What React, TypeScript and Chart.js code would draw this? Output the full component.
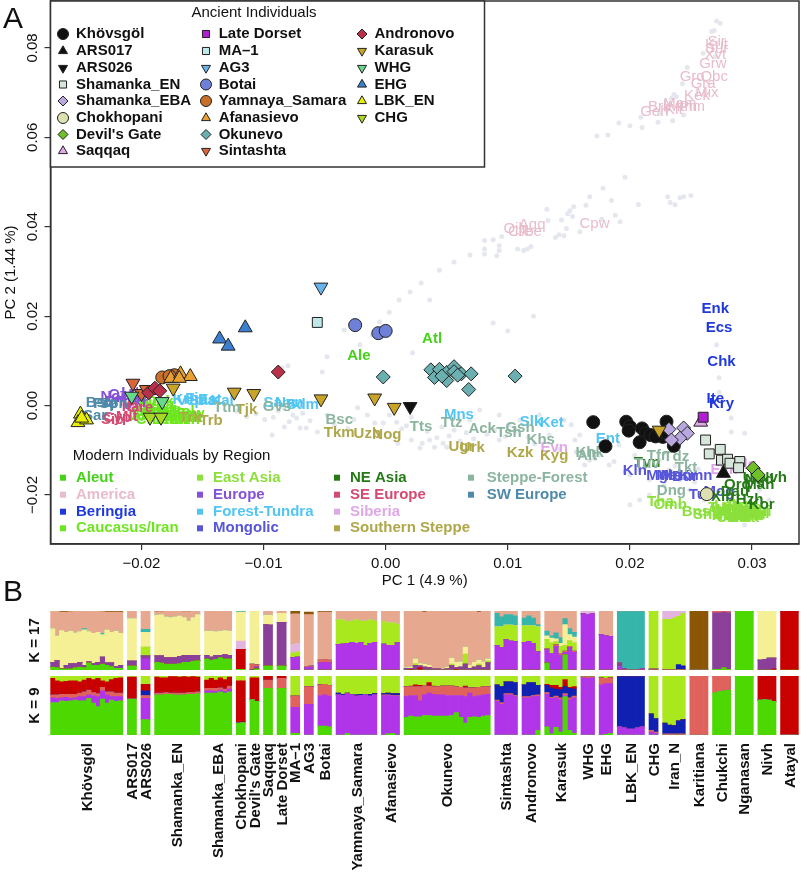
import React, { useEffect, useRef } from "react";
import { Chart, registerables } from "chart.js";
import { drawPoint } from "chart.js/helpers";

Chart.register(...registerables);

const FONT = '"Liberation Sans", Arial, sans-serif';
const INK = "#222222";

// ---------- Panel A: ancient individuals (PC1, PC2) ----------
type P = [number, number];
const khovsgol: P[] = [[0.017, -0.0037], [0.0197, -0.0036], [0.02, -0.0047], [0.0199, -0.0056], [0.021, -0.0051], [0.0213, -0.0062], [0.0217, -0.0066], [0.0208, -0.0082], [0.018, -0.0091], [0.023, -0.0036], [0.0227, -0.007], [0.0236, -0.009], [0.0228, -0.0059], [0.0221, -0.0069]];
const ars017: P[] = [[0.02766, -0.01515]];
const ars026: P[] = [[0.002, -0.0002]];
const shamankaEN: P[] = [[0.0262, -0.0077], [0.0274, -0.0098], [0.0265, -0.0108], [0.0275, -0.0122], [0.028, -0.012], [0.0282, -0.0129], [0.029, -0.0125], [0.0289, -0.0139]];
const shamankaEBA: P[] = [[0.0232, -0.0053], [0.0244, -0.005], [0.0247, -0.0062], [0.0241, -0.0073], [0.0234, -0.0077]];
const chokhopani: P[] = [[0.0263, -0.0198]];
const devilsGate: P[] = [[0.0301, -0.014], [0.0305, -0.0155]];
const saqqaq: P[] = [[0.0258, -0.0037]];
const lateDorset: P[] = [[0.026, -0.0026]];
const ma1: P[] = [[-0.0056, 0.0186]];
const ag3: P[] = [[-0.0053, 0.0265]];
const botai: P[] = [[-0.0025, 0.018], [-0.0006, 0.0162], [0.0, 0.0167]];
const yamnaya: P[] = [[-0.0183, 0.0063], [-0.0173, 0.0068], [-0.0177, 0.0066]];
const afanasievo: P[] = [[-0.0176, 0.0061], [-0.0168, 0.0071], [-0.016, 0.0065], [-0.0169, 0.0061]];
const okunevo: P[] = [[0.0037, 0.008], [0.004, 0.0063], [0.0044, 0.0081], [0.005, 0.0074], [0.005, 0.0056], [0.0046, 0.0066], [0.0056, 0.0087], [0.0056, 0.0076], [0.0062, 0.0071], [0.007, 0.0071], [0.0068, 0.0036], [0.0106, 0.0066], [-0.0002, 0.0064], [0.0059, 0.0068]];
const sintashta: P[] = [[-0.0207, 0.005], [-0.02, 0.0027], [-0.0196, 0.0036]];
const andronovo: P[] = [[-0.0088, 0.0075], [-0.0194, 0.0029], [-0.0189, 0.0039], [-0.0185, 0.0033]];
const karasuk: P[] = [[-0.0174, 0.0039], [-0.0124, 0.003], [-0.0108, 0.0027], [-0.0053, 0.0015], [-0.0009, 0.0017], [0.0007, -0.0004], [0.0224, -0.0055]];
const whg: P[] = [[-0.0208, 0.0021], [-0.0183, 0.0009]];
const ehg: P[] = [[-0.0136, 0.0149], [-0.0129, 0.0133], [-0.0115, 0.0174]];
const lbkEN: P[] = [[-0.025, -0.0019], [-0.0252, -0.0038], [-0.0245, -0.0032], [-0.0249, -0.0028]];
const chg: P[] = [[-0.0193, -0.0026], [-0.0184, -0.0026]];

// ---------- Panel A: modern background individuals ----------
const modernPoints: P[] = [
  [0.0271, 0.086], [0.0274, 0.0855], [0.0269, 0.0839], [0.0267, 0.0837], [0.026, 0.0788], [0.027, 0.0781], [0.0247, 0.0756], [0.0243, 0.072], [0.0236, 0.0696], [0.0234, 0.0687], [0.0238, 0.0691], [0.023, 0.0661], [0.0224, 0.0654], [0.0209, 0.0645], [0.0191, 0.0632], [0.02, 0.0626], [0.021, 0.0622], [0.0223, 0.0634], [0.0235, 0.0637], [0.0244, 0.065], [0.0173, 0.0603], [0.0182, 0.0605],
  [0.0196, 0.0511], [0.0178, 0.0486], [0.0167, 0.0467], [0.0185, 0.0459], [0.0207, 0.045], [0.0231, 0.0467], [0.0233, 0.0454], [0.0237, 0.0449], [0.0241, 0.0465], [0.0244, 0.0467], [0.025, 0.047], [0.0164, 0.0448], [0.0132, 0.0439], [0.0154, 0.0445], [0.0151, 0.0436], [0.0149, 0.0429], [0.0153, 0.0423], [0.0144, 0.0415], [0.0133, 0.0414], [0.0177, 0.0417], [0.0188, 0.0426], [0.0192, 0.0411], [0.0148, 0.0396], [0.0159, 0.0389], [0.0139, 0.0376], [0.0142, 0.0382], [0.0146, 0.038], [0.0095, 0.0378], [0.0081, 0.0369], [0.0088, 0.0371], [0.0093, 0.0358], [0.0093, 0.0347], [0.0091, 0.0335], [0.0081, 0.035], [0.0081, 0.0339], [0.0108, 0.035], [0.0113, 0.0347], [0.0119, 0.0356], [0.0116, 0.035],
  [0.0069, 0.0337], [0.0056, 0.0321], [0.0044, 0.0303], [0.0029, 0.0274], [0.002, 0.0254], [0.0011, 0.0236], [0.0003, 0.0209], [-0.0005, 0.0187], [-0.0011, 0.0158], [-0.0034, 0.0169], [-0.0021, 0.0136], [0.0036, 0.0236], [0.0088, 0.0185], [0.01, 0.0167], [0.0121, 0.02], [0.0271, 0.0136], [0.0273, 0.0062], [0.0273, 0.003], [0.0283, -0.0028], [0.0294, -0.0062], [0.0283, -0.0059],
  [-0.0048, 0.0109], [-0.0052, 0.0075], [-0.008, 0.0089], [-0.0085, 0.0084], [-0.007, -0.005], [-0.0065, -0.005], [-0.0056, -0.0059], [-0.0093, -0.0066], [-0.0083, -0.0048], [-0.0076, -0.0021], [-0.0083, -0.0005], [-0.0068, -0.0017], [-0.0092, -0.0026], [-0.0023, -0.0005], [-0.0015, -0.0021], [-0.0009, -0.0039], [0.001, -0.0084], [0.0009, -0.0037], [0.0021, -0.0077], [0.0028, -0.0095], [0.0022, 0.0118], [0.0021, -0.0026], [-0.0002, -0.0039], [0.0003, -0.0021],
  [0.003, -0.0084], [0.0036, -0.0077], [0.0042, -0.0072], [0.0047, -0.0084], [0.004, -0.0093], [0.005, -0.0093], [0.0056, -0.0055], [0.0069, -0.0032], [0.0077, -0.001], [0.0093, -0.0021], [0.0093, -0.0077], [0.0101, -0.0043], [0.011, -0.0032], [0.0126, -0.0021], [0.0146, -0.0032], [0.0152, -0.0043], [0.0159, -0.0066], [0.0155, -0.0077], [0.0167, -0.0122], [0.0175, -0.0111], [0.0163, -0.0133], [0.0183, -0.0133], [0.0191, -0.0088], [0.0204, -0.0111], [0.0208, -0.0144], [0.0216, -0.0166], [0.02, -0.0155], [0.0224, -0.0122], [0.0232, -0.0144], [0.0241, -0.0166], [0.0228, -0.0178], [0.0253, -0.0171], [0.0261, -0.0211], [0.0208, -0.0211], [0.02, -0.0222], [0.0216, -0.02], [0.0241, -0.0222], [0.0249, -0.0189], [0.029, -0.0144], [0.0298, -0.0166], [0.0286, -0.0234], [0.0294, -0.0267], [0.0314, -0.0211], [0.0306, -0.0189],
  [-0.0122, -0.0012], [-0.0114, -0.0025], [-0.0106, -0.0018], [-0.0099, -0.0031], [-0.0088, -0.0012], [-0.0079, -0.0036], [-0.0073, -0.0028], [-0.0062, -0.0034], [-0.0048, -0.0021], [-0.0042, -0.0044], [-0.0031, -0.0052], [-0.0026, -0.0031], [0.0013, -0.0052], [0.0017, -0.0045], [0.0034, -0.0058], [0.0046, -0.0048], [0.0052, -0.0068], [0.0061, -0.0079], [0.0066, -0.0061], [0.0072, -0.0074], [0.0083, -0.0064], [0.0089, -0.0055], [0.0098, -0.0069], [0.0106, -0.0058], [0.0117, -0.0071], [0.0122, -0.0086], [0.0134, -0.0066], [0.0142, -0.0098], [0.0156, -0.0104], [0.0171, -0.0118], [0.0187, -0.0125], [0.0196, -0.0148], [0.0212, -0.0138], [0.0226, -0.0152], [0.0237, -0.0135], [0.0246, -0.0152], [0.0256, -0.0142],
];

// ---------- Panel A: modern population labels by region ----------
type L = [string, number, number];
const aleutLabels: L[] = [["Ale", -0.0022, 0.0111], ["Atl", 0.0038, 0.0149]];
const americaLabels: L[] = [["Sir", 0.0271, 0.0813], ["Kut", 0.0271, 0.0807], ["Sur", 0.0271, 0.0798], ["Xvt", 0.027, 0.0784], ["Grw", 0.0268, 0.0764], ["Gro", 0.0251, 0.0735], ["Qbc", 0.0269, 0.0735], ["Gra", 0.026, 0.0719], ["Kek", 0.0255, 0.0693], ["Mix", 0.0263, 0.0699], ["Mam", 0.0241, 0.0675], ["Pim", 0.0251, 0.0668], ["Mtm", 0.0243, 0.0668], ["Brk", 0.0224, 0.0668], ["Geh", 0.022, 0.0657], ["Klt", 0.0236, 0.0661], ["Ojb", 0.0106, 0.0395], ["Aqq", 0.012, 0.0404], ["Jbe", 0.0118, 0.0388], ["Cre", 0.011, 0.0388], ["Cpw", 0.0171, 0.0406]];
const beringiaLabels: L[] = [["Enk", 0.027, 0.0216], ["Ecs", 0.0273, 0.0174], ["Chk", 0.0275, 0.0098], ["Ite", 0.027, 0.0015], ["Kry", 0.0275, 0.0004]];
const caucasusLabels: L[] = [["Geo", -0.0196, -0.0014], ["Arm", -0.0189, -0.0025], ["Abk", -0.0197, -0.0023], ["Adg", -0.0189, -0.0012], ["Kum", -0.0181, -0.0019], ["Dar", -0.0173, -0.0025], ["Bal", -0.0166, -0.0014], ["Che", -0.0193, -0.0032], ["Lez", -0.0181, -0.0032], ["Irn", -0.0169, -0.0032], ["Jew", -0.016, -0.0019], ["Ing", -0.0193, 0.0008], ["Osk", -0.0185, 0.0008], ["Kbd", -0.0185, -0.0005], ["Blk", -0.0177, -0.0015], ["Tab", -0.0177, -0.0032], ["Agu", -0.0164, -0.0023], ["Rut", -0.016, -0.0028], ["Kar", -0.0173, -0.0015], ["Ava", -0.0193, -0.0005], ["Mzn", -0.0164, -0.0032], ["Ssh", -0.0185, -0.0023]];
const eastAsiaLabels: L[] = [["Tha", 0.0225, -0.0215], ["Cmb", 0.0233, -0.0222], ["Bns", 0.0254, -0.0238], ["She", 0.0263, -0.0245], ["Han", 0.0282, -0.0234], ["Jpn", 0.0294, -0.0238], ["Hmn", 0.0286, -0.0247], ["Lhu", 0.0298, -0.0247], ["Dai", 0.029, -0.0252], ["Mia", 0.0298, -0.0229], ["Yiz", 0.0294, -0.0229], ["Vie", 0.0302, -0.0247], ["Kin", 0.0277, -0.0247], ["Nax", 0.0286, -0.0229], ["Tuj", 0.0273, -0.0229], ["Hui", 0.0306, -0.0238], ["Ami", 0.0275, -0.0234], ["Lah", 0.028, -0.0225], ["Cam", 0.0284, -0.0252], ["Bur", 0.0288, -0.0234], ["Kha", 0.0288, -0.0243], ["Dus", 0.0292, -0.0225], ["Tuu", 0.0292, -0.0243], ["Ata", 0.0296, -0.0252], ["Paw", 0.0296, -0.0234], ["Yao", 0.03, -0.0243], ["Lao", 0.03, -0.0234], ["Zhu", 0.028, -0.0243], ["Wan", 0.0284, -0.0238], ["Mal", 0.0304, -0.0243]];
const europeLabels: L[] = [["Nor", -0.0223, 0.0019], ["Cze", -0.0216, 0.0024], ["Hun", -0.0209, 0.0017], ["Eng", -0.0219, 0.0008], ["Ukr", -0.0205, 0.0006], ["Lit", -0.0209, 0.0028], ["Bel", -0.0201, 0.0024]];
const forestTundraLabels: L[] = [["Mns", 0.006, -0.0021], ["Slk", 0.0119, -0.0037], ["Ket", 0.0136, -0.0039], ["Ent", 0.0182, -0.0075], ["Kal", -0.0134, 0.001], ["Krl", -0.0166, 0.0013], ["Fin", -0.0155, 0.0015], ["Est", -0.0144, 0.0013], ["Sam", -0.0087, 0.0006], ["Sdm", -0.0068, 0.0001], ["Nen", -0.0079, 0.0006], ["Vep", -0.016, 0.0011], ["Saa", -0.015, 0.0011]];
const mongolicLabels: L[] = [["Kln", 0.0204, -0.0147], ["Mgl", 0.0224, -0.0158], ["Mel", 0.0232, -0.0158], ["Mon", 0.0238, -0.0158], ["Kmn", 0.0254, -0.0158], ["Bur", 0.0245, -0.016], ["Tub", 0.0259, -0.02], ["Mog", 0.0273, -0.0193]];
const neAsiaLabels: L[] = [["Nvh", 0.0317, -0.0162], ["Ulc", 0.0302, -0.0162], ["Ngd", 0.0306, -0.0166], ["Orq", 0.0288, -0.0178], ["Man", 0.0306, -0.0178], ["Xib", 0.0276, -0.0204], ["Kor", 0.0308, -0.0223], ["Hzh", 0.0298, -0.0211], ["Dau", 0.0286, -0.0193], ["Tvn", 0.0214, -0.0129]];
const seEuropeLabels: L[] = [["Cyp", -0.022, -0.0028], ["Ita", -0.0209, -0.0003], ["Gre", -0.0201, -0.0005], ["Mlt", -0.0212, -0.0026], ["Sic", -0.0224, -0.0032]];
const siberiaLabels: L[] = [["Evn", 0.0138, -0.0095], ["Evk", 0.0277, -0.0144], ["Ykt", 0.0214, -0.0063], ["Dlg", 0.0294, -0.0133]];
const southernSteppeLabels: L[] = [["Trb", -0.0143, -0.0034], ["Trk", -0.016, -0.0028], ["Tjk", -0.0114, -0.001], ["Tkm", -0.0038, -0.006], ["Uzb", -0.0015, -0.0064], ["Nog", 0.0001, -0.0066], ["Ugr", 0.0062, -0.0093], ["Urk", 0.0071, -0.0095], ["Kzk", 0.011, -0.0106], ["Kyg", 0.0138, -0.0113]];
const steppeForestLabels: L[] = [["Bsc", -0.0038, -0.0032], ["Tts", 0.0029, -0.0048], ["Ttz", 0.0054, -0.0039], ["Ack", 0.0079, -0.0052], ["Tsh", 0.0101, -0.0061], ["Gsh", 0.011, -0.005], ["Khs", 0.0127, -0.0077], ["Khk", 0.0167, -0.0106], ["Alt", 0.0165, -0.0113], ["Tfr", 0.0222, -0.0113], ["Tdz", 0.0238, -0.0115], ["Tuv", 0.0214, -0.0131], ["Tkt", 0.0246, -0.014], ["Dng", 0.0234, -0.0191], ["Ttm", -0.013, -0.0005], ["Gvs", -0.0089, -0.0003]];
const swEuropeLabels: L[] = [["Bsq", -0.0234, 0.0006], ["Sar", -0.0238, -0.0023], ["Spn", -0.0223, 0.0004], ["Fre", -0.023, 0.0003]];

const regionNames = ["Aleut", "America", "Beringia", "Caucasus/Iran", "East Asia", "Europe", "Forest-Tundra", "Mongolic", "NE Asia", "SE Europe", "Siberia", "Southern Steppe", "Steppe-Forest", "SW Europe"];
const regionColors = ["#46d21a", "#e8bccb", "#2039dd", "#6ee61f", "#8be03b", "#8552d6", "#52c5f3", "#5856d8", "#257a15", "#d34a72", "#e0a8e8", "#b0a64a", "#8cb5a0", "#4f8aa8"];
const regionLabels = [aleutLabels, americaLabels, beringiaLabels, caucasusLabels, eastAsiaLabels, europeLabels, forestTundraLabels, mongolicLabels, neAsiaLabels, seEuropeLabels, siberiaLabels, southernSteppeLabels, steppeForestLabels, swEuropeLabels];

const ancientNames = ["Khövsgöl", "ARS017", "ARS026", "Shamanka_EN", "Shamanka_EBA", "Chokhopani", "Devil's Gate", "Saqqaq", "Late Dorset", "MA\u20131", "AG3", "Botai", "Yamnaya_Samara", "Afanasievo", "Okunevo", "Sintashta", "Andronovo", "Karasuk", "WHG", "EHG", "LBK_EN", "CHG"];
const ancientData = [khovsgol, ars017, ars026, shamankaEN, shamankaEBA, chokhopani, devilsGate, saqqaq, lateDorset, ma1, ag3, botai, yamnaya, afanasievo, okunevo, sintashta, andronovo, karasuk, whg, ehg, lbkEN, chg];
const ancientFill = ["#111111", "#111111", "#111111", "#d6e6da", "#b9a8e0", "#dde0b0", "#6fbf2a", "#e3a8e8", "#b020d0", "#bfe8e8", "#66b3ee", "#6f80d8", "#c8702a", "#e8a030", "#6ab0b0", "#d9653a", "#b8304a", "#c9a428", "#66d98a", "#3a7fd0", "#e8f000", "#a8d820"];
const ancientShape = ["circle", "triangle", "down", "rect", "rectRot", "circle", "rectRot", "triangle", "rect", "rect", "down", "circle", "circle", "triangle", "rectRot", "down", "rectRot", "down", "down", "triangle", "triangle", "down"];

// ---------- Panel B: groups and admixture columns ----------
const groupNames = ["Khövsgöl", "ARS017", "ARS026", "Shamanka_EN", "Shamanka_EBA", "Chokhopani", "Devil's Gate", "Saqqaq", "Late Dorset", "MA\u20131", "AG3", "Botai", "Yamnaya_Samara", "Afanasievo", "Okunevo", "Sintashta", "Andronovo", "Karasuk", "WHG", "EHG", "LBK_EN", "CHG", "Iran_N", "Karitiana", "Chukchi", "Nganasan", "Nivh", "Atayal"];
const groupSizes = [16, 2, 2, 10, 6, 2, 2, 2, 2, 2, 2, 3, 9, 4, 19, 5, 4, 7, 3, 3, 6, 2, 5, 4, 4, 4, 4, 4];

type Cols = Record<number, number[]>;
const GREEN = "#4cd800", RED = "#c80000", PURPLE = "#b035e8", DARK_PURPLE = "#8a4098", CORAL = "#e0625c", DARK_BLUE = "#1020b0", LIME = "#aae81e", YELLOW = "#f5f096", LAVENDER = "#e3b4de", TEAL = "#36b5ab", SALMON = "#e6a88f", BROWN = "#8b5606";

const k17Green: Cols = { 0: [5, 4, 2, 2, 2, 4, 5, 4, 12, 8, 8, 10, 8, 6, 3, 3], 1: [7, 7], 3: [13, 12, 10, 10, 10, 11, 13, 13, 15, 16], 4: [19, 17, 18, 21, 19, 19], 5: [1, 1], 6: [0, 2], 7: [7, 7], 8: [7, 7], 17: [12, 0, 0, 0, 26, 0, 0], 24: [1, 1, 4, 1], 25: [100, 100, 100, 100] };
const k17Red: Cols = { 5: [34, 34], 14: [0, 1, 0, 4, 0, 0, 0, 0, 0, 0, 0, 1, 0, 0, 0, 0, 0, 0, 0], 26: [0, 0, 0, 2], 27: [100, 100, 100, 100] };
const k17Purple: Cols = { 2: [19, 19], 9: [21, 22], 10: [4, 5], 11: [12, 13, 12], 12: [43, 44, 45, 47, 45, 47, 41, 45, 47], 13: [44, 42, 42, 46], 15: [42, 38, 51, 49, 48], 16: [47, 48, 45, 31], 17: [22, 28, 40, 25, 4, 38, 30], 18: [95, 94, 95], 19: [60, 58, 57], 20: [6, 1, 0, 0, 1, 2] };
const k17DarkPurple: Cols = { 0: [8, 12, 1, 6, 9, 7, 8, 4, 2, 3, 5, 12, 4, 6, 3, 5], 1: [8, 8], 2: [5, 5], 3: [11, 12, 11, 11, 11, 12, 12, 12, 10, 9], 4: [6, 5, 7, 4, 7, 6], 6: [1, 4], 7: [70, 69], 8: [74, 74], 14: [3, 2, 8, 3, 5, 4, 2, 2, 1, 2, 8, 3, 5, 10, 3, 5, 7, 4, 12], 20: [6, 2, 0, 0, 0, 1], 24: [96, 96, 94, 96], 26: [17, 18, 20, 18] };
const k17Coral: Cols = { 6: [9, 3], 10: [2, 2], 11: [5, 5, 5], 17: [2, 0, 3, 3, 2, 2, 2], 21: [2, 2], 22: [1, 1, 1, 1, 1], 24: [3, 3, 2, 3] };
const k17DarkBlue: Cols = { 22: [0, 0, 0, 8, 6] };
const k17Lime: Cols = { 2: [15, 15], 9: [8, 9], 12: [42, 41, 37, 36, 40, 36, 42, 40, 36], 13: [38, 38, 38, 32], 14: [0, 0, 3, 0, 0, 0, 0, 0, 0, 1, 2, 0, 0, 17, 0, 0, 3, 0, 3], 15: [31, 35, 25, 27, 27], 16: [28, 27, 30, 42], 17: [16, 18, 5, 12, 10, 10, 14], 21: [98, 98], 22: [85, 85, 87, 82, 89] };
const k17Lavender: Cols = { 5: [14, 14], 9: [14, 14], 18: [5, 6, 5], 22: [14, 14, 12, 9, 4] };
const k17Yellow: Cols = { 0: [57, 42, 64, 56, 55, 52, 52, 60, 51, 51, 51, 38, 56, 52, 60, 54], 1: [72, 72], 2: [25, 25], 3: [69, 70, 69, 68, 69, 69, 64, 58, 64, 69], 4: [41, 44, 40, 41, 41, 41], 5: [49, 49], 6: [90, 91], 7: [16, 17], 8: [15, 15], 14: [1, 2, 8, 4, 5, 4, 0, 0, 0, 2, 10, 9, 9, 12, 5, 8, 7, 10, 4], 17: [6, 8, 5, 5, 35, 10, 10], 26: [83, 82, 80, 80] };
const k17Teal: Cols = { 0: [0, 0, 0, 0, 0, 0, 0, 2, 0, 0, 0, 2, 0, 0, 0, 0], 2: [5, 5], 5: [2, 2], 15: [23, 17, 18, 18, 17], 16: [13, 17, 13, 4], 17: [8, 4, 10, 10, 10, 10, 8], 20: [87, 96, 99, 99, 98, 96] };
const k17Salmon: Cols = { 0: [30, 42, 31, 34, 33, 37, 35, 30, 35, 38, 36, 37, 30, 34, 32, 36], 1: [13, 13], 2: [31, 31], 3: [6, 5, 10, 11, 10, 8, 10, 16, 11, 6], 4: [34, 34, 35, 34, 33, 34], 7: [7, 7], 8: [4, 4], 9: [52, 50], 10: [88, 87], 11: [81, 80, 81], 12: [15, 15, 18, 17, 15, 17, 17, 15, 17], 13: [18, 20, 20, 22], 14: [96, 95, 81, 89, 88, 92, 98, 98, 99, 95, 80, 87, 86, 61, 92, 87, 81, 86, 81], 15: [4, 10, 6, 6, 8], 16: [12, 8, 12, 23], 17: [34, 42, 37, 45, 13, 30, 36], 19: [40, 42, 43] };
const k17Brown: Cols = { 0: [0, 0, 2, 2, 1, 0, 0, 2, 0, 0, 0, 1, 2, 2, 2, 2], 3: [1, 1, 0, 0, 0, 0, 1, 1, 0, 0], 9: [5, 5], 10: [4, 4], 11: [2, 2, 2], 14: [0, 0, 0, 0, 2, 0, 0, 0, 0, 0, 0, 0, 0, 0, 0, 0, 2, 0, 0], 20: [1, 1, 1, 1, 1, 1], 23: [100, 100, 100, 100] };

const k9Green: Cols = { 0: [55, 55, 58, 57, 58, 59, 58, 58, 62, 54, 48, 61, 54, 59, 57, 58], 1: [61, 61], 2: [26, 26], 3: [68, 68, 69, 69, 68, 68, 68, 69, 69, 70], 4: [71, 71, 71, 73, 71, 73], 5: [20, 21], 6: [60, 57], 7: [79, 79], 8: [79, 79], 9: [3, 3], 11: [15, 15, 14], 12: [0, 0, 3, 0, 0, 0, 0, 0, 0], 13: [0, 2, 3, 0], 14: [30, 32, 31, 31, 33, 33, 32, 32, 32, 32, 33, 38, 30, 20, 30, 31, 30, 32, 33], 16: [0, 0, 0, 8], 17: [14, 2, 13, 5, 65, 8, 3], 19: [0, 1, 3], 24: [72, 74, 75, 76], 25: [100, 100, 100, 100], 26: [59, 60, 59, 57] };
const k9Purple: Cols = { 0: [8, 7, 5, 7, 4, 4, 7, 7, 6, 13, 17, 14, 14, 6, 8, 7], 2: [36, 36], 4: [4, 4, 3, 3, 3, 5], 9: [44, 44], 10: [52, 52], 11: [52, 53, 52], 12: [68, 67, 67, 68, 66, 67, 68, 66, 68], 13: [67, 65, 63, 66], 14: [35, 35, 36, 27, 35, 38, 37, 36, 36, 35, 34, 29, 37, 45, 41, 34, 37, 36, 36], 15: [57, 52, 68, 68, 65], 16: [63, 63, 65, 58], 17: [55, 60, 50, 55, 2, 52, 60], 18: [97, 96, 97], 19: [85, 86, 84], 20: [14, 12, 10, 10, 12, 14], 21: [5, 3] };
const k9Coral: Cols = { 0: [5, 6, 6, 5, 7, 6, 6, 8, 8, 5, 5, 6, 5, 8, 6, 6], 2: [5, 5], 3: [3, 3, 3, 2, 3, 3, 3, 3, 3, 3], 4: [4, 4, 5, 4, 4, 5], 7: [14, 14], 8: [17, 17], 9: [19, 19], 10: [30, 30], 11: [18, 18, 18], 13: [1, 1, 1, 1], 14: [17, 15, 15, 24, 15, 12, 13, 14, 15, 16, 16, 15, 14, 15, 9, 15, 14, 14, 13], 15: [2, 3, 2, 2, 2], 16: [2, 2, 2, 2], 17: [3, 2, 3, 3, 3, 3, 3], 18: [1, 2, 1], 19: [12, 9, 10], 21: [3, 2], 22: [2, 2, 2, 2, 2], 23: [100, 100, 100, 100], 24: [28, 26, 25, 24] };
const k9DarkBlue: Cols = { 2: [8, 8], 5: [1, 1], 12: [3, 2, 1, 1, 2, 2, 1, 3, 2], 13: [2, 3, 3, 3], 15: [26, 27, 20, 20, 22], 16: [20, 24, 22, 16], 17: [12, 16, 12, 14, 12, 16, 12], 20: [85, 87, 89, 89, 87, 85], 21: [28, 23], 22: [18, 15, 14, 22, 24] };
const k9Red: Cols = { 0: [28, 24, 21, 22, 23, 23, 19, 20, 20, 22, 26, 11, 17, 21, 25, 26], 1: [37, 37], 2: [11, 11], 3: [27, 26, 25, 28, 28, 27, 28, 26, 27, 25], 4: [14, 17, 14, 17, 16, 15], 5: [71, 70], 6: [37, 40], 7: [7, 7], 8: [4, 4], 14: [0, 1, 3, 2, 0, 6, 1, 0, 0, 0, 0, 0, 0, 3, 0, 0, 0, 0, 0], 17: [2, 4, 6, 4, 12, 2, 4], 26: [41, 40, 41, 43], 27: [100, 100, 100, 100] };
const k9Lime: Cols = { 0: [4, 8, 10, 9, 8, 8, 10, 7, 4, 6, 4, 8, 10, 6, 4, 3], 1: [2, 2], 2: [14, 14], 3: [2, 3, 3, 1, 1, 2, 1, 2, 1, 2], 4: [7, 4, 7, 3, 6, 2], 5: [8, 8], 6: [3, 3], 9: [34, 34], 10: [18, 18], 11: [15, 14, 16], 12: [29, 31, 29, 31, 32, 31, 31, 31, 30], 13: [30, 29, 30, 30], 14: [18, 17, 15, 16, 17, 11, 17, 18, 17, 17, 17, 18, 19, 17, 20, 20, 19, 18, 18], 15: [15, 18, 10, 10, 11], 16: [15, 11, 11, 16], 17: [14, 16, 16, 19, 6, 19, 18], 18: [2, 2, 2], 19: [3, 4, 3], 20: [1, 1, 1, 1, 1, 1], 21: [64, 72], 22: [80, 83, 84, 76, 74] };

const k17Stack: [string, string, Cols][] = [["Green", GREEN, k17Green], ["Red", RED, k17Red], ["Purple", PURPLE, k17Purple], ["Dark purple", DARK_PURPLE, k17DarkPurple], ["Coral", CORAL, k17Coral], ["Dark blue", DARK_BLUE, k17DarkBlue], ["Lime", LIME, k17Lime], ["Lavender", LAVENDER, k17Lavender], ["Yellow", YELLOW, k17Yellow], ["Teal", TEAL, k17Teal], ["Salmon", SALMON, k17Salmon], ["Brown", BROWN, k17Brown]];
const k9Stack: [string, string, Cols][] = [["Green", GREEN, k9Green], ["Purple", PURPLE, k9Purple], ["Coral", CORAL, k9Coral], ["Dark blue", DARK_BLUE, k9DarkBlue], ["Red", RED, k9Red], ["Lime", LIME, k9Lime]];

// one slot per individual, one empty slot between groups
function slots(c: Cols): (number | null)[] {
  const out: (number | null)[] = [];
  groupSizes.forEach((n, g) => {
    for (let i = 0; i < n; i++) out.push(c[g] ? c[g][i] ?? 0 : 0);
    if (g < groupSizes.length - 1) out.push(null);
  });
  return out;
}
const slotLabels: string[] = [];
const groupSpan: [number, number][] = [];
groupSizes.forEach((n, g) => {
  const start = slotLabels.length;
  for (let i = 0; i < n; i++) slotLabels.push(groupNames[g] + " " + (i + 1));
  groupSpan.push([start, start + n - 1]);
  if (g < groupSizes.length - 1) slotLabels.push(" ");
});

const PLOT = { left: 50.5, right: 799, top: 1, bottom: 544 };
const CANVAS_A_H = 606;

function symbol(ctx: CanvasRenderingContext2D, shape: string, fill: string, x: number, y: number, r: number, border = true) {
  ctx.save();
  ctx.fillStyle = fill;
  ctx.strokeStyle = INK;
  ctx.lineWidth = 1;
  drawPoint(ctx, { pointStyle: shape === "down" ? "triangle" : shape, rotation: shape === "down" ? 180 : 0, radius: r, borderWidth: border ? 1 : 0 }, x, y);
  ctx.restore();
}

const labelsPlugin = {
  id: "popLabels",
  afterDatasetDraw(chart: any, args: any) {
    if (args.index !== ancientNames.length) return; // right after the modern background points
    const { ctx, scales } = chart;
    ctx.save();
    ctx.textAlign = "center";
    ctx.textBaseline = "middle";
    regionLabels.forEach((list, r) => {
      ctx.fillStyle = regionColors[r];
      ctx.font = (regionNames[r] === "America" ? "" : "bold ") + "15px " + FONT;
      list.forEach(([t, x, y]) => ctx.fillText(t, scales.x.getPixelForValue(x), scales.y.getPixelForValue(y)));
    });
    ctx.restore();
  },
};

const legendPlugin = {
  id: "panelA",
  afterDraw(chart: any) {
    const { ctx, chartArea: a } = chart;
    ctx.save();
    ctx.strokeStyle = "#333";
    ctx.lineWidth = 1.5;
    ctx.strokeRect(a.left, a.top, a.right - a.left, a.bottom - a.top);
    // ancient legend box
    ctx.fillStyle = "#fff";
    ctx.fillRect(a.left, a.top, 434, 166);
    ctx.strokeRect(a.left, a.top, 434, 166);
    ctx.fillStyle = "#111";
    ctx.textBaseline = "middle";
    ctx.textAlign = "center";
    ctx.font = "15px " + FONT;
    ctx.fillText("Ancient Individuals", 254, 13);
    ctx.textAlign = "left";
    const rows = [34, 51, 68, 84.5, 101, 118, 134.5, 151];
    const cols = [[63, 76], [206, 218.7], [362, 374.5]];
    ancientNames.forEach((n, i) => {
      const c = i < 8 ? 0 : i < 16 ? 1 : 2;
      const y = rows[i % 8];
      const shape = ancientShape[i];
      const r = i === 0 ? 5.5 : shape === "circle" ? 5.5 : shape === "rect" ? 5 : shape === "rectRot" ? 5 : 5.2;
      symbol(ctx, shape, ancientFill[i], cols[c][0], y, r);
      ctx.fillStyle = "#111";
      ctx.font = "bold 15px " + FONT;
      ctx.fillText(n, cols[c][1], y);
    });
    // modern legend
    ctx.font = "15px " + FONT;
    ctx.fillStyle = "#111";
    ctx.fillText("Modern Individuals by Region", 72.7, 456);
    const mRows = [477.7, 494.7, 511.7, 528.3];
    const mCols = [[63, 76], [200, 213], [337, 350], [471, 486.7]];
    const perCol = [4, 4, 4, 2];
    let idx = 0;
    mCols.forEach((c, ci) => {
      for (let j = 0; j < perCol[ci]; j++, idx++) {
        ctx.fillStyle = regionColors[idx];
        ctx.fillRect(c[0] - 3, mRows[j] - 3, 6, 6);
        ctx.font = "bold 15px " + FONT;
        ctx.fillText(regionNames[idx], c[1], mRows[j]);
      }
    });
    ctx.fillStyle = "#111";
    ctx.font = "30px " + FONT;
    ctx.textBaseline = "alphabetic";
    ctx.fillText("A", 3, 28);
    ctx.fillText("B", 3, 601);
    ctx.restore();
  },
};

const groupLabelPlugin = {
  id: "groupLabels",
  afterDraw(chart: any) {
    const { ctx, scales } = chart;
    ctx.save();
    ctx.fillStyle = "#111";
    ctx.font = "bold 15px " + FONT;
    ctx.textAlign = "right";
    ctx.textBaseline = "middle";
    groupSpan.forEach(([a, b], g) => {
      const x = (scales.x.getPixelForValue(a) + scales.x.getPixelForValue(b)) / 2;
      ctx.save();
      ctx.translate(x + 1, chart.chartArea.bottom + 8);
      ctx.rotate(-Math.PI / 2);
      ctx.fillText(groupNames[g], 0, 0);
      ctx.restore();
    });
    ctx.restore();
  },
};

function fmt(v: number | string) {
  const n = Number(v);
  if (Math.abs(n) < 1e-9) return "0.00";
  return (n < 0 ? "\u2212" : "") + Math.abs(n).toFixed(2);
}

const noPad = (s: any) => { s.paddingLeft = 0; s.paddingRight = 0; s.paddingTop = 0; s.paddingBottom = 0; };

function barChart(canvas: HTMLCanvasElement, stack: [string, string, Cols][], title: string, bottomPad: number, plugins: any[]) {
  return new Chart(canvas, {
    type: "bar",
    data: {
      labels: slotLabels,
      datasets: stack.map(([label, color, cols]) => ({ label, data: slots(cols), backgroundColor: color, borderWidth: 0 })),
    } as any,
    options: {
      animation: false,
      responsive: false,
      devicePixelRatio: 1,
      datasets: { bar: { barPercentage: 1, categoryPercentage: 1 } },
      layout: { autoPadding: false, padding: { left: 26, right: 3.3, top: 0, bottom: bottomPad } },
      plugins: { legend: { display: false }, tooltip: { enabled: false } },
      scales: {
        x: { stacked: true, display: false },
        y: {
          stacked: true, min: 0, max: 100,
          grid: { display: false }, border: { display: false },
          ticks: { display: false },
          title: { display: true, text: title, color: "#111", font: { family: FONT, size: 15, weight: "bold" }, padding: 0 },
          afterFit: (s: any) => { s.width = 24.3; noPad(s); },
        },
      },
    } as any,
    plugins,
  });
}

export default function App() {
  const a = useRef<HTMLCanvasElement>(null);
  const b = useRef<HTMLCanvasElement>(null);
  const c = useRef<HTMLCanvasElement>(null);
  useEffect(() => {
    const tick = { color: "#111", font: { family: FONT, size: 15 } };
    const axisLine = { color: "#333", width: 1.5 };
    const gridOpt = { drawOnChartArea: false, drawTicks: true, tickLength: 6, color: "#333", lineWidth: 1.2 };
    const datasets: any[] = ancientNames.map((name, i) => {
      const shape = ancientShape[i];
      return {
        label: name,
        data: ancientData[i].map(([x, y]) => ({ x, y })),
        order: 100 - i,
        pointStyle: shape === "down" ? "triangle" : shape,
        rotation: shape === "down" ? 180 : 0,
        pointRadius: shape === "circle" ? 6.5 : shape === "rect" ? 7 : shape === "rectRot" ? 7 : 8,
        backgroundColor: ancientFill[i],
        borderColor: INK,
        borderWidth: 1,
      };
    });
    datasets.push({
      label: "Modern individuals",
      data: modernPoints.map(([x, y]) => ({ x, y })),
      order: 1000,
      pointRadius: 2.5,
      borderWidth: 0,
      backgroundColor: "#e4e7ee",
    });
    const chartA = new Chart(a.current!, {
      type: "scatter",
      data: { datasets },
      options: {
        animation: false,
        responsive: false,
        devicePixelRatio: 1,
        layout: { autoPadding: false, padding: { left: 2, right: 802 - PLOT.right, top: PLOT.top, bottom: CANVAS_A_H - PLOT.bottom - 46 } },
        plugins: { legend: { display: false }, tooltip: { enabled: false } },
        scales: {
          x: {
            type: "linear", min: -0.02745, max: 0.03385,
            grid: gridOpt, border: axisLine,
            afterFit: (s: any) => { s.height = 46; noPad(s); },
            ticks: { ...tick, stepSize: 0.01, includeBounds: false, maxRotation: 0, padding: 5, callback: fmt },
            title: { display: true, text: "PC 1 (4.9 %)", color: "#111", font: { family: FONT, size: 15 }, padding: 0 },
          },
          y: {
            type: "linear", min: -0.03096, max: 0.0905,
            grid: gridOpt, border: axisLine,
            afterFit: (s: any) => { s.width = PLOT.left - 2; noPad(s); },
            ticks: { ...tick, stepSize: 0.02, includeBounds: false, minRotation: 90, maxRotation: 90, crossAlign: "center", padding: -7, callback: fmt },
            title: { display: true, text: "PC 2 (1.44 %)", color: "#111", font: { family: FONT, size: 15 }, padding: 0 },
          },
        },
      } as any,
      plugins: [labelsPlugin, legendPlugin],
    });
    const chartB = barChart(b.current!, k17Stack, "K = 17", 0, []);
    const chartC = barChart(c.current!, k9Stack, "K = 9", 137, [groupLabelPlugin]);
    return () => { chartA.destroy(); chartB.destroy(); chartC.destroy(); };
  }, []);
  const abs = (top: number): React.CSSProperties => ({ position: "absolute", left: 0, top, display: "block" });
  return (
    <div style={{ position: "absolute", left: 0, top: 0, width: 802, height: 872, background: "#fff", overflow: "hidden" }}>
      <canvas ref={a} width={802} height={CANVAS_A_H} style={abs(0)} />
      <canvas ref={b} width={802} height={59} style={abs(611)} />
      <canvas ref={c} width={802} height={196} style={abs(676)} />
    </div>
  );
}
